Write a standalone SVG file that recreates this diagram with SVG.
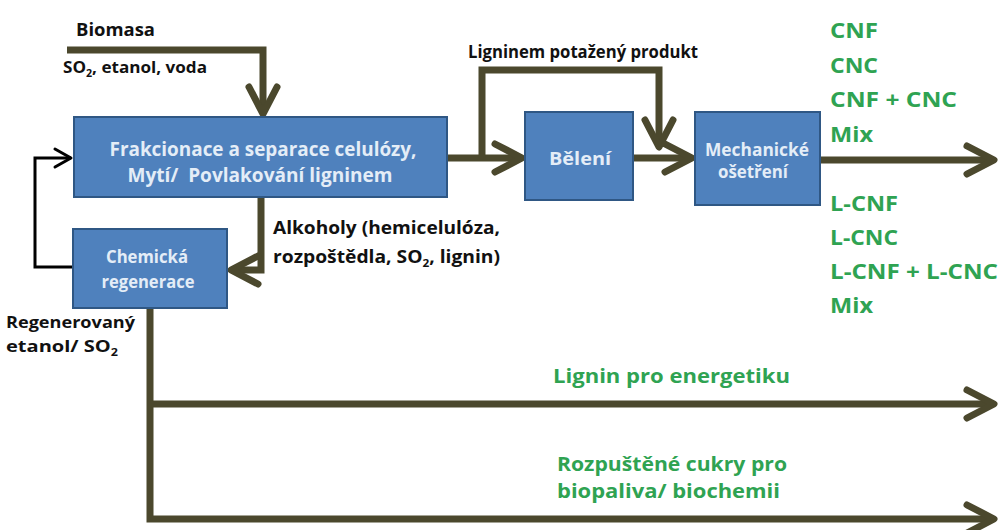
<svg xmlns="http://www.w3.org/2000/svg" width="1000" height="530" viewBox="0 0 1000 530">
<defs>
<style>
.box{fill:#4f81bd;stroke:#2f5784;stroke-width:2}
.bt{font-family:"Open Sans","Liberation Sans",sans-serif;font-weight:700;fill:#e4edf7;text-anchor:middle}
.lb{font-family:"Open Sans","Liberation Sans",sans-serif;font-weight:700;fill:#111}
.gr{font-family:"Open Sans","Liberation Sans",sans-serif;font-weight:700;fill:#2fa352}
.ln{fill:none;stroke:#4b482d;stroke-width:7;stroke-linejoin:miter}
.bl{fill:none;stroke:#000;stroke-width:3}
</style>
<marker id="ah" markerUnits="userSpaceOnUse" viewBox="-34 -22 40 44" refX="0" refY="0" markerWidth="40" markerHeight="44" orient="auto" overflow="visible">
<path d="M-27,-14 L0,0 L-27,14" fill="none" stroke="#4b482d" stroke-width="7" stroke-linecap="round" stroke-linejoin="round"/>
</marker>
<marker id="ahb" markerUnits="userSpaceOnUse" viewBox="-20 -12 24 24" refX="0" refY="0" markerWidth="24" markerHeight="24" orient="auto" overflow="visible">
<path d="M-16,-9 L0,0 L-16,9" fill="none" stroke="#000" stroke-width="3" stroke-linecap="round" stroke-linejoin="round"/>
</marker>
</defs>
<rect width="1000" height="530" fill="#fff"/>
<g id="connectors">
<path class="ln" d="M67,50 H263 V114" marker-end="url(#ah)"/>
<path class="ln" d="M447,158 H522" marker-end="url(#ah)"/>
<path class="ln" d="M482,158 V70 H659 V147" marker-end="url(#ah)"/>
<path class="ln" d="M633,158 H692" marker-end="url(#ah)"/>
<path class="ln" d="M820,160 H994" marker-end="url(#ah)"/>
<path class="ln" d="M261,197 V270 H231" marker-end="url(#ah)"/>
<path class="bl" d="M73,267 H35 V158 H71" marker-end="url(#ahb)"/>
<path class="ln" d="M150,308 V519 H994" marker-end="url(#ah)"/>
<path class="ln" d="M150,404 H994" marker-end="url(#ah)"/>
</g>
<g id="inputs">
<text class="lb" x="76" y="36" font-size="18" textLength="79" lengthAdjust="spacingAndGlyphs">Biomasa</text>
<text class="lb" x="63" y="73" font-size="16" textLength="144" lengthAdjust="spacingAndGlyphs">SO<tspan font-size="10" dy="4">2</tspan><tspan dy="-4">, etanol, voda</tspan></text>
</g>
<g id="frakcionace">
<rect class="box" x="74" y="117" width="373" height="80"/>
<text class="bt" x="263" y="156" font-size="19" textLength="307" lengthAdjust="spacingAndGlyphs">Frakcionace a separace celulózy,</text>
<text class="bt" x="260" y="182" font-size="19" textLength="265" lengthAdjust="spacingAndGlyphs" xml:space="preserve">Mytí/  Povlakování ligninem</text>
</g>
<g id="bypass-label">
<text class="lb" x="468" y="58" font-size="17" textLength="230" lengthAdjust="spacingAndGlyphs">Ligninem potažený produkt</text>
</g>
<g id="beleni">
<rect class="box" x="525" y="112" width="108" height="88"/>
<text class="bt" x="580" y="165" font-size="18" textLength="62" lengthAdjust="spacingAndGlyphs">Bělení</text>
</g>
<g id="mechanicke">
<rect class="box" x="695" y="112" width="125" height="93"/>
<text class="bt" x="757" y="156" font-size="17" textLength="104" lengthAdjust="spacingAndGlyphs">Mechanické</text>
<text class="bt" x="753" y="178" font-size="17" textLength="70" lengthAdjust="spacingAndGlyphs">ošetření</text>
</g>
<g id="products">
<text class="gr" x="830" y="38" font-size="21" textLength="48" lengthAdjust="spacingAndGlyphs">CNF</text>
<text class="gr" x="830" y="73" font-size="21" textLength="48" lengthAdjust="spacingAndGlyphs">CNC</text>
<text class="gr" x="830" y="107" font-size="21" textLength="127" lengthAdjust="spacingAndGlyphs">CNF + CNC</text>
<text class="gr" x="830" y="142" font-size="21" textLength="43" lengthAdjust="spacingAndGlyphs">Mix</text>
<text class="gr" x="830" y="211" font-size="21" textLength="68" lengthAdjust="spacingAndGlyphs">L-CNF</text>
<text class="gr" x="830" y="245" font-size="21" textLength="68" lengthAdjust="spacingAndGlyphs">L-CNC</text>
<text class="gr" x="830" y="279" font-size="21" textLength="168" lengthAdjust="spacingAndGlyphs">L-CNF + L-CNC</text>
<text class="gr" x="830" y="313" font-size="21" textLength="43" lengthAdjust="spacingAndGlyphs">Mix</text>
</g>
<g id="alkoholy-label">
<text class="lb" x="273" y="234" font-size="18" textLength="227" lengthAdjust="spacingAndGlyphs">Alkoholy (hemicelulóza,</text>
<text class="lb" x="273" y="263" font-size="18" textLength="227" lengthAdjust="spacingAndGlyphs">rozpoštědla, SO<tspan font-size="11" dy="4">2</tspan><tspan dy="-4">, lignin)</tspan></text>
</g>
<g id="chemicka">
<rect class="box" x="73" y="229" width="154" height="79"/>
<text class="bt" x="147" y="263" font-size="18" textLength="82" lengthAdjust="spacingAndGlyphs">Chemická</text>
<text class="bt" x="148" y="288" font-size="18" textLength="93" lengthAdjust="spacingAndGlyphs">regenerace</text>
</g>
<g id="regen-label">
<text class="lb" x="6" y="328" font-size="16" textLength="129" lengthAdjust="spacingAndGlyphs">Regenerovaný</text>
<text class="lb" x="6" y="352" font-size="16" textLength="112" lengthAdjust="spacingAndGlyphs">etanol/ SO<tspan font-size="10" dy="4">2</tspan></text>
</g>
<g id="outputs">
<text class="gr" x="553" y="383" font-size="20" textLength="237" lengthAdjust="spacingAndGlyphs">Lignin pro energetiku</text>
<text class="gr" x="557" y="471" font-size="20" textLength="230" lengthAdjust="spacingAndGlyphs">Rozpuštěné cukry pro</text>
<text class="gr" x="557" y="498" font-size="20" textLength="223" lengthAdjust="spacingAndGlyphs">biopaliva/ biochemii</text>
</g>
</svg>
